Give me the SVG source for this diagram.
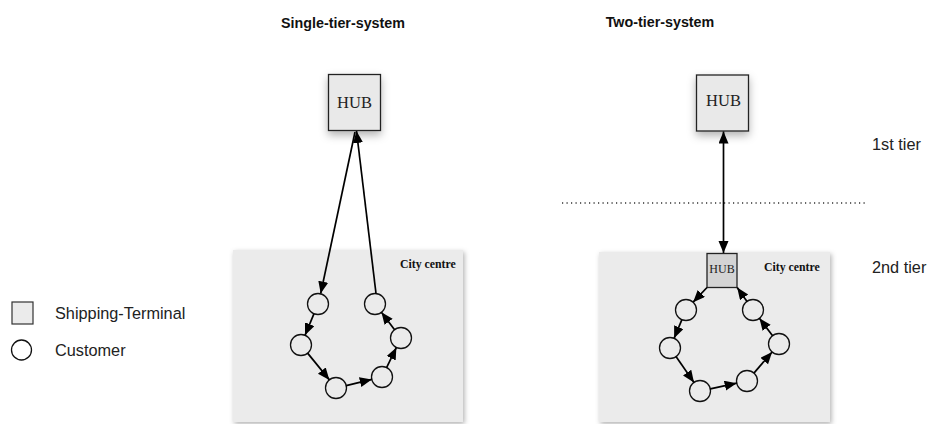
<svg xmlns="http://www.w3.org/2000/svg" width="931" height="424" viewBox="0 0 931 424">
<defs>
<style>
.title{font-family:"Liberation Sans",Arial,sans-serif;font-weight:bold;font-size:14.3px;fill:#111;text-anchor:middle}
.lbl{font-family:"Liberation Sans",Arial,sans-serif;font-size:16.3px;fill:#222}
.city{fill:#ebebeb;filter:url(#sh)}
.cityt{font-family:"Liberation Serif","Times New Roman",serif;font-weight:bold;font-size:11.8px;fill:#111}
.hub{fill:#e9e9e9;stroke:#222;stroke-width:1.3;filter:url(#sh2)}
.hubs{fill:#d4d4d4;stroke:#222;stroke-width:1.3}
.hubt{font-family:"Liberation Serif","Times New Roman",serif;font-size:16.5px;fill:#222;text-anchor:middle}
.cust{fill:none;stroke:#111;stroke-width:1.3}
.term{fill:#ebebeb;stroke:#333;stroke-width:1.2}
.arr{stroke:#000;stroke-width:1.7;fill:none;marker-end:url(#ah)}
.dots{stroke:#333;stroke-width:1.5;stroke-dasharray:1.2 3.3;fill:none}
</style>
<filter id="sh" x="-10%" y="-10%" width="125%" height="125%">
<feDropShadow dx="1.5" dy="2" stdDeviation="2.5" flood-color="#000" flood-opacity="0.3"/>
</filter>
<filter id="sh2" x="-40%" y="-40%" width="180%" height="190%">
<feDropShadow dx="0" dy="4" stdDeviation="4" flood-color="#000" flood-opacity="0.3"/>
</filter>
<marker id="ah" markerUnits="userSpaceOnUse" markerWidth="13" markerHeight="11" refX="12" refY="5" orient="auto-start-reverse">
<path d="M0,0 L12,5 L0,10 z" fill="#000"/>
</marker>
</defs>
<rect width="931" height="424" fill="#fff"/>

<text class="title" x="343" y="28">Single-tier-system</text>
<text class="title" x="660" y="27">Two-tier-system</text>

<g id="city-single"><rect class="city" x="233" y="250" width="230" height="172"/><text class="cityt" x="400" y="268">City centre</text></g>
<g id="city-two"><rect class="city" x="599" y="252" width="231" height="170"/><text class="cityt" x="764" y="271">City centre</text></g>

<g id="hub-single"><rect class="hub" x="328.5" y="74.5" width="52" height="56"/><text class="hubt" x="354.5" y="108">HUB</text></g>
<g id="hub-two-1"><rect class="hub" x="696.5" y="75" width="52" height="56"/><text class="hubt" x="723.5" y="106">HUB</text></g>
<g id="hub-two-2"><rect class="hubs" x="707" y="253.5" width="30" height="34"/><text class="hubt" x="722" y="273" style="font-size:12px">HUB</text></g>

<line class="dots" x1="562" y1="203" x2="866" y2="203"/>

<g id="s1"><circle class="cust" cx="318" cy="304" r="10.5"/></g>
<g id="s2"><circle class="cust" cx="301" cy="345" r="10.5"/></g>
<g id="s3"><circle class="cust" cx="336" cy="388" r="10.5"/></g>
<g id="s4"><circle class="cust" cx="382" cy="377" r="10.5"/></g>
<g id="s5"><circle class="cust" cx="401" cy="338" r="10.5"/></g>
<g id="s6"><circle class="cust" cx="375" cy="304" r="10.5"/></g>

<g id="t1"><circle class="cust" cx="686" cy="310" r="10.5"/></g>
<g id="t2"><circle class="cust" cx="670" cy="348" r="10.5"/></g>
<g id="t3"><circle class="cust" cx="700" cy="391" r="10.5"/></g>
<g id="t4"><circle class="cust" cx="747" cy="381" r="10.5"/></g>
<g id="t5"><circle class="cust" cx="779" cy="344" r="10.5"/></g>
<g id="t6"><circle class="cust" cx="753" cy="310" r="10.5"/></g>

<g id="connectors">
<line class="arr" x1="355" y1="132" x2="320.7" y2="293.5"/>
<line class="arr" x1="314" y1="313.7" x2="305" y2="335.3"/>
<line class="arr" x1="307.6" y1="353.1" x2="329.4" y2="379.9"/>
<line class="arr" x1="346.2" y1="385.6" x2="371.8" y2="379.4"/>
<line class="arr" x1="386.6" y1="367.6" x2="396.4" y2="347.4"/>
<line class="arr" x1="394.6" y1="329.7" x2="381.4" y2="312.3"/>
<line class="arr" x1="376" y1="293.5" x2="356.5" y2="131"/>

<line class="arr" x1="723.5" y1="131.5" x2="723.5" y2="253" style="marker-start:url(#ah)"/>
<line class="arr" x1="707" y1="287.5" x2="693.1" y2="302.2"/>
<line class="arr" x1="681.9" y1="319.7" x2="674.1" y2="338.3"/>
<line class="arr" x1="676" y1="356.6" x2="694" y2="382.4"/>
<line class="arr" x1="710.3" y1="388.8" x2="736.7" y2="383.2"/>
<line class="arr" x1="753.9" y1="373.1" x2="772.1" y2="352"/>
<line class="arr" x1="772.6" y1="335.7" x2="759.4" y2="318.3"/>
<line class="arr" x1="747" y1="301.4" x2="737.2" y2="287.5"/>
</g>

<text class="lbl" x="872" y="150">1st tier</text>
<text class="lbl" x="872" y="272.5">2nd tier</text>

<g id="legend-terminal"><rect class="term" x="12" y="302" width="21" height="22"/><text class="lbl" x="55" y="319">Shipping-Terminal</text></g>
<g id="legend-customer"><circle class="cust" cx="21.5" cy="350" r="10"/><text class="lbl" x="55" y="355.5">Customer</text></g>
</svg>
